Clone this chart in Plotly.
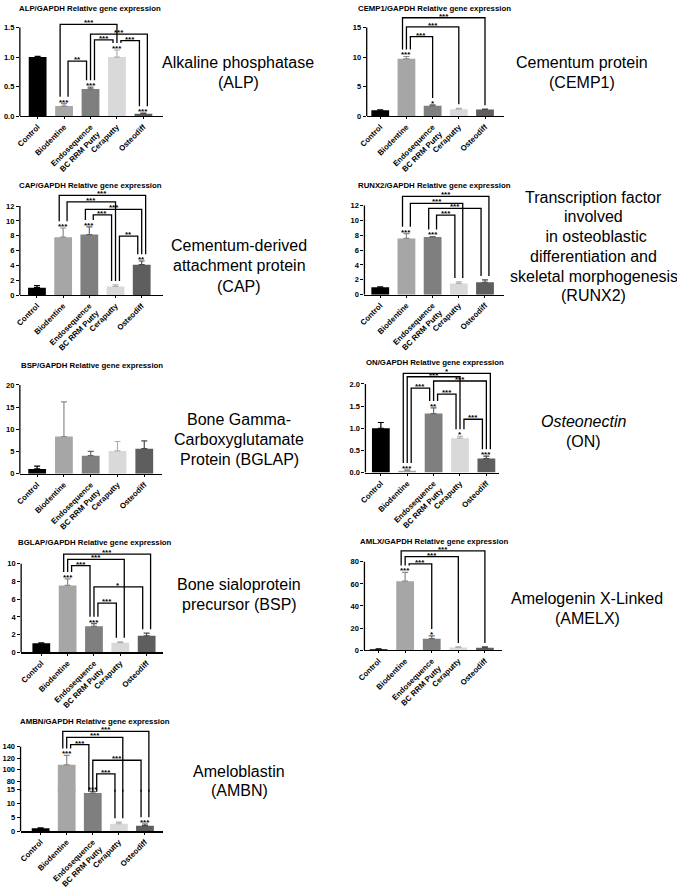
import plotly.graph_objects as go

W, H = 677, 891
FONT = "Liberation Sans"

# ---------------- data ----------------
CATEGORIES = ["Control", "Biodentine", "Endosequence<br>BC RRM Putty", "Ceraputty", "Osteodiff"]

ALP_MEAN = [1.00, 0.17, 0.46, 1.00, 0.04]
ALP_SEM = [0.01, 0.04, 0.03, 0.12, 0.01]
ALP_STARS = ["", "***", "***", "***", "***"]
ALP_BRACKETS = [(1, 3, "***", 1.555), (2, 4, "***", 1.39), (2, 3, "***", 1.29),
                (3, 4, "***", 1.28), (1, 2, "**", 0.93)]
ALP_TICKS = [0.0, 0.5, 1.0, 1.5]
ALP_TICKTEXT = ["0.0", "0.5", "1.0", "1.5"]

CEMP1_MEAN = [1.00, 9.70, 1.77, 1.16, 1.14]
CEMP1_SEM = [0.05, 0.40, 0.13, 0.17, 0.05]
CEMP1_STARS = ["", "***", "*", "", ""]
CEMP1_BRACKETS = [(1, 4, "***", 16.66), (1, 3, "***", 15.1), (1, 2, "***", 13.45)]
CEMP1_TICKS = [0, 5, 10, 15]

CAP_MEAN = [1.00, 7.80, 8.16, 1.15, 4.10]
CAP_SEM = [0.28, 1.24, 1.04, 0.22, 0.49]
CAP_STARS = ["", "***", "***", "", "**"]
CAP_BRACKETS = [(1, 4, "***", 13.45), (1, 3, "***", 12.57), (2, 4, "***", 11.56),
                (2, 3, "***", 10.8), (3, 4, "**", 7.94)]
CAP_TICKS = [0, 2, 4, 6, 8, 10, 12]

RUNX2_MEAN = [1.00, 7.56, 7.74, 1.50, 1.67]
RUNX2_SEM = [0.05, 0.64, 0.08, 0.21, 0.31]
RUNX2_STARS = ["", "***", "***", "", ""]
RUNX2_BRACKETS = [(1, 4, "***", 13.2), (1, 3, "***", 12.26), (2, 4, "***", 11.6), (2, 3, "***", 10.7)]
RUNX2_TICKS = [0, 2, 4, 6, 8, 10, 12]

BSP_MEAN = [1.10, 8.40, 4.10, 5.15, 5.66]
BSP_SEM = [0.66, 7.80, 0.97, 2.13, 1.77]
BSP_STARS = ["", "", "", "", ""]
BSP_BRACKETS = []
BSP_TICKS = [0, 5, 10, 15, 20]

ON_MEAN = [1.00, 0.044, 1.33, 0.775, 0.317]
ON_SEM = [0.13, 0.016, 0.13, 0.045, 0.053]
ON_STARS = ["", "***", "**", "*", "***"]
ON_BRACKETS = [(1, 4, "*", 2.236), (1, 3, "***", 2.162), (2, 4, "***", 2.066),
               (1, 2, "***", 1.904), (2, 3, "***", 1.771), (3, 4, "***", 1.203)]
ON_TICKS = [0.0, 0.5, 1.0, 1.5, 2.0]
ON_TICKTEXT = ["0.0", "0.5", "1.0", "1.5", "2.0"]

BGLAP_MEAN = [1.03, 7.56, 2.95, 1.10, 1.88]
BGLAP_SEM = [0.04, 0.74, 0.30, 0.10, 0.30]
BGLAP_STARS = ["", "***", "***", "", ""]
BGLAP_BRACKETS = [(1, 4, "***", 11.1), (1, 3, "***", 10.5), (1, 2, "***", 9.8),
                  (2, 4, "*", 7.4), (2, 3, "***", 5.57)]
BGLAP_TICKS = [0, 2, 4, 6, 8, 10]

AMLX_MEAN = [0.9, 62.5, 10.4, 2.4, 2.1]
AMLX_SEM = [0.3, 8.0, 2.6, 0.6, 0.9]
AMLX_STARS = ["", "***", "*", "", ""]
AMLX_BRACKETS = [(1, 4, "***", 90.0), (1, 3, "***", 84.7), (1, 2, "***", 78.2)]
AMLX_TICKS = [0, 20, 40, 60, 80]

AMBN_MEAN = [1.06, 108.6, 13.8, 2.7, 2.0]
AMBN_SEM = [0.2, 16.4, 0.6, 0.6, 0.6]
AMBN_STARS = ["", "***", "***", "", "***"]
AMBN_BRACKETS = [(1, 4, "***", 166.9), (1, 3, "***", 156.6), (1, 2, "***", 144.0),
                 (2, 4, "***", 116.6), (2, 3, "***", 92.6)]
AMBN_TICKS_LOW = [0, 5, 10, 15]
AMBN_TICKS_HIGH = [80, 100, 120, 140]

DESC_LINES = [
    ["Alkaline phosphatase", "(ALP)"],
    ["Cementum protein", "(CEMP1)"],
    ["Cementum-derived", "attachment protein", "(CAP)"],
    ["Transcription factor", "involved", " in osteoblastic", "differentiation and",
     "skeletal morphogenesis", "(RUNX2)"],
    ["Bone Gamma-", "Carboxyglutamate", "Protein (BGLAP)"],
    ["<i>Osteonectin</i>", "(ON)"],
    ["Bone sialoprotein", "precursor (BSP)"],
    ["Amelogenin X-Linked", "(AMELX)"],
    ["Ameloblastin", "(AMBN)"],
]

# ---------------- styles / layout (pixels) ----------------
BAR_COLORS = ["#000000", "#a6a6a6", "#7f7f7f", "#d9d9d9", "#5e5e5e"]
ERR_COLORS = ["#000000", "#8a8a8a", "#666666", "#b0b0b0", "#4a4a4a"]
# (center x, first line y, line step, font size)
DESC_STYLE = [(233, 60, 20, 16), (581, 60, 20, 16), (234, 246, 20.8, 16), (593, 197, 20.1, 16),
              (234, 424, 20, 16), (582, 426, 19.6, 16), (234, 592, 20, 16), (586, 606, 20, 16),
              (234, 782, 20, 16)]

PANELS = [
    dict(title="ALP/GAPDH Relative gene expression", mean=ALP_MEAN, sem=ALP_SEM, stars=ALP_STARS,
         brackets=ALP_BRACKETS, ticks=ALP_TICKS, ticktext=ALP_TICKTEXT,
         g=dict(xl=12, xr=156.7, c0=30, step=26.75, y0=114.3, ref=(1.5, 24.0), top=15, title=(83, 4.5))),
    dict(title="CEMP1/GAPDH Relative gene expression", mean=CEMP1_MEAN, sem=CEMP1_SEM, stars=CEMP1_STARS,
         brackets=CEMP1_BRACKETS, ticks=CEMP1_TICKS,
         g=dict(xl=363, xr=501.7, c0=376.7, step=26.5, y0=114.3, ref=(15, 24.0), top=12, title=(431.5, 4.5))),
    dict(title="CAP/GAPDH Relative gene expression", mean=CAP_MEAN, sem=CAP_SEM, stars=CAP_STARS,
         brackets=CAP_BRACKETS, ticks=CAP_TICKS,
         g=dict(xl=12, xr=156.7, c0=29.3, step=26.5, y0=296.7, ref=(12, 206.0), top=192, title=(83.5, 185))),
    dict(title="RUNX2/GAPDH Relative gene expression", mean=RUNX2_MEAN, sem=RUNX2_SEM, stars=RUNX2_STARS,
         brackets=RUNX2_BRACKETS, ticks=RUNX2_TICKS,
         g=dict(xl=360.7, xr=501.7, c0=376.7, step=26.5, y0=296.3, ref=(12, 205.3), top=193, title=(432, 185))),
    dict(title="BSP/GAPDH Relative gene expression", mean=BSP_MEAN, sem=BSP_SEM, stars=BSP_STARS,
         brackets=BSP_BRACKETS, ticks=BSP_TICKS,
         g=dict(xl=12, xr=155.5, c0=29.5, step=27.1, y0=479, ref=(20, 388.3), top=386, title=(85, 368.3))),
    dict(title="ON/GAPDH Relative gene expression", mean=ON_MEAN, sem=ON_SEM, stars=ON_STARS,
         brackets=ON_BRACKETS, ticks=ON_TICKS, ticktext=ON_TICKTEXT,
         g=dict(xl=361.7, xr=497, c0=377.3, step=26.7, y0=477.7, ref=(2.0, 387.3), top=372, title=(432, 365.7))),
    dict(title="BGLAP/GAPDH Relative gene expression", mean=BGLAP_MEAN, sem=BGLAP_SEM, stars=BGLAP_STARS,
         brackets=BGLAP_BRACKETS, ticks=BGLAP_TICKS,
         g=dict(xl=13.3, xr=156.7, c0=33.7, step=26.65, y0=661, ref=(10, 570.7), top=557, title=(88.5, 549.3))),
    dict(title="AMLX/GAPDH Relative gene expression", mean=AMLX_MEAN, sem=AMLX_SEM, stars=AMLX_STARS,
         brackets=AMLX_BRACKETS, ticks=AMLX_TICKS,
         g=dict(xl=360.7, xr=500, c0=375, step=26.9, y0=658.7, ref=(80, 568.7), top=554, title=(431, 548.3))),
    dict(title="AMBN/GAPDH Relative gene expression", mean=AMBN_MEAN, sem=AMBN_SEM, stars=AMBN_STARS,
         brackets=AMBN_BRACKETS, ticks=AMBN_TICKS_LOW, ticks_hi=AMBN_TICKS_HIGH,
         g=dict(xl=12.7, xr=156.7, c0=33, step=26.4, y0=843.3, ref=(15, 801), top=801, title=(88, 731),
                upper=dict(ref_lo=(80, 792.3), ref_hi=(140, 757.3), top=738, overlap=2))),
]

BAR_PX = 18
GAP_STAR_PX = 7.0
GAP_PX = 4.0
LEG_SPREAD = 0.15
LINE_W = 1.3
TICK_FONT = 7.5
CAT_FONT = 7.8
STAR_FONT = 8
TITLE_FONT = 7.8

fig = go.Figure()
layout = {}
annotations = []
shapes = []


def names(k):
    return ("x" if k == 1 else f"x{k}"), ("y" if k == 1 else f"y{k}"), ("" if k == 1 else str(k))


def leg_offsets(brackets):
    offs = {}
    for bar in range(len(CATEGORIES)):
        left_going = sorted((b[3], i) for i, b in enumerate(brackets) if b[1] == bar)
        right_going = sorted(((b[3], i) for i, b in enumerate(brackets) if b[0] == bar), reverse=True)
        order = [(i, "R") for _, i in left_going] + [(i, "L") for _, i in right_going]
        n = len(order)
        for m, key in enumerate(order):
            offs[key] = 0.0 if n == 1 else -LEG_SPREAD + 2 * LEG_SPREAD * m / (n - 1)
    return offs


k = 0
for p in PANELS:
    g = p["g"]
    subs = []
    k += 1
    scale = (g["y0"] - g["ref"][1]) / g["ref"][0]
    subs.append(dict(k=k, ydom=[1 - g["y0"] / H, 1 - g["top"] / H],
                     yrange=[0, (g["y0"] - g["top"]) / scale], scale=scale,
                     ticks=p["ticks"], ticktext=p.get("ticktext"), main=True))
    if "upper" in g:
        u = g["upper"]
        k += 1
        bottom_px = g["top"] + u["overlap"]
        su = (u["ref_lo"][1] - u["ref_hi"][1]) / (u["ref_hi"][0] - u["ref_lo"][0])
        lo = u["ref_lo"][0] - (bottom_px - u["ref_lo"][1]) / su
        hi = u["ref_hi"][0] + (u["ref_hi"][1] - u["top"]) / su
        subs.append(dict(k=k, ydom=[1 - bottom_px / H, 1 - u["top"] / H], yrange=[lo, hi], scale=su,
                         ticks=p["ticks_hi"], ticktext=None, main=False))

    xrange = [(g["xl"] - g["c0"]) / g["step"], (g["xr"] - g["c0"]) / g["step"]]
    xdom = [g["xl"] / W, g["xr"] / W]

    def pick(v, subs=subs):
        if len(subs) > 1 and v > subs[0]["yrange"][1]:
            return subs[1]
        return subs[0]

    mean, sem, stars, brackets = p["mean"], p["sem"], p["stars"], p["brackets"]
    tops = [m + e for m, e in zip(mean, sem)]

    for s in subs:
        xn, yn, sfx = names(s["k"])
        tt = s["ticktext"] if s["ticktext"] else [str(t) for t in s["ticks"]]
        layout["xaxis" + sfx] = dict(
            domain=xdom, range=xrange, anchor=yn, showgrid=False, zeroline=False,
            showline=s["main"], linecolor="black", linewidth=1.3,
            tickvals=list(range(len(CATEGORIES))) if s["main"] else [],
            ticktext=[f"<b>{c}</b>" for c in CATEGORIES] if s["main"] else [],
            tickangle=-45, ticks="outside" if s["main"] else "", ticklen=2, tickcolor="black",
            tickfont=dict(size=CAT_FONT, color="black", family=FONT),
            showticklabels=s["main"], fixedrange=True)
        layout["yaxis" + sfx] = dict(
            domain=s["ydom"], range=s["yrange"], anchor=xn, showgrid=False, zeroline=False,
            showline=False, tickvals=s["ticks"], ticktext=[f"<b>{t}</b>" for t in tt],
            ticks="outside", ticklen=3, tickwidth=1, tickcolor="black",
            tickfont=dict(size=TICK_FONT, color="black", family=FONT), fixedrange=True)
        shapes.append(dict(type="line", xref=f"{xn} domain", x0=0, x1=0, yref=yn,
                           y0=max(s["yrange"][0], 0), y1=max(s["ticks"]),
                           line=dict(color="black", width=1.3)))
        for i in range(len(CATEGORIES)):
            fig.add_trace(go.Bar(
                x=[i], y=[mean[i]], width=BAR_PX / g["step"],
                marker=dict(color=BAR_COLORS[i], line=dict(width=0)),
                error_y=dict(type="data", symmetric=False, array=[sem[i]], arrayminus=[0],
                             color=ERR_COLORS[i], thickness=1.2, width=3),
                xaxis=xn, yaxis=yn, hoverinfo="skip", showlegend=False))

    # stars above bars
    for i, st in enumerate(stars):
        if st:
            s = pick(tops[i])
            xn, yn, _ = names(s["k"])
            annotations.append(dict(x=i, y=tops[i], xref=xn, yref=yn, text=f"<b>{st}</b>",
                                    showarrow=False, yanchor="bottom", yshift=-4, borderpad=0,
                                    font=dict(size=STAR_FONT, color="black", family=FONT)))

    # brackets
    offs = leg_offsets(brackets)
    for bi, (a, b, lab, lvl) in enumerate(brackets):
        xa = a + offs[(bi, "L")]
        xb = b + offs[(bi, "R")]
        ends = []
        for bar in (a, b):
            gap = GAP_STAR_PX if stars[bar] else GAP_PX
            ends.append(tops[bar] + gap / pick(tops[bar])["scale"])
        for s in subs:
            xn, yn, _ = names(s["k"])
            fig.add_trace(go.Scatter(x=[xa, xa, xb, xb], y=[ends[0], lvl, lvl, ends[1]],
                                     mode="lines", line=dict(color="black", width=LINE_W),
                                     xaxis=xn, yaxis=yn, hoverinfo="skip", showlegend=False))
        s = pick(lvl)
        xn, yn, _ = names(s["k"])
        annotations.append(dict(x=(xa + xb) / 2, y=lvl, xref=xn, yref=yn, text=f"<b>{lab}</b>",
                                showarrow=False, yanchor="bottom", yshift=-4, borderpad=0,
                                font=dict(size=STAR_FONT, color="black", family=FONT)))

    # title
    annotations.append(dict(x=g["title"][0] / W, y=1 - g["title"][1] / H, xref="paper", yref="paper",
                            text=f"<b>{p['title']}</b>", showarrow=False, xanchor="center",
                            yanchor="middle", borderpad=0,
                            font=dict(size=TITLE_FONT, color="black", family=FONT)))

for lines, (cx, y1, step, size) in zip(DESC_LINES, DESC_STYLE):
    for li, line in enumerate(lines):
        annotations.append(dict(x=cx / W, y=1 - (y1 + li * step) / H, xref="paper", yref="paper",
                                text=line, showarrow=False, xanchor="center", yanchor="middle",
                                borderpad=0, font=dict(size=size, color="black", family=FONT)))

fig.update_layout(**layout)
fig.update_layout(width=W, height=H, autosize=False, margin=dict(l=0, r=0, t=0, b=0),
                  paper_bgcolor="white", plot_bgcolor="rgba(0,0,0,0)", barmode="overlay",
                  showlegend=False, hovermode=False, annotations=annotations, shapes=shapes,
                  font=dict(family=FONT, color="black"))

fig.write_html("out.html", config={"displayModeBar": False, "staticPlot": True},
               post_script="document.body.style.margin='0';document.body.style.overflow='hidden';")
